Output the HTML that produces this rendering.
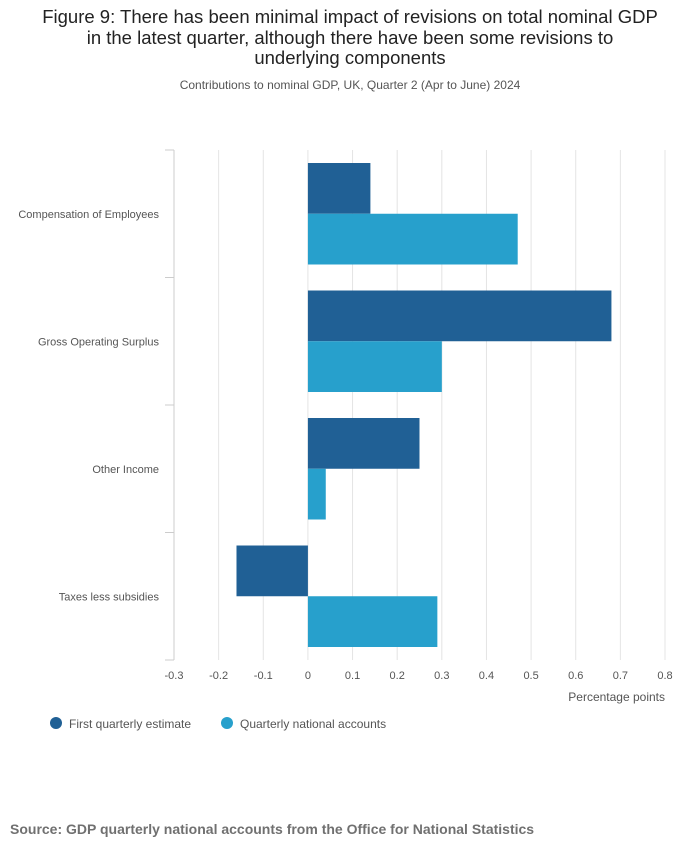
<!DOCTYPE html>
<html><head><meta charset="utf-8"><style>
body{margin:0;width:700px;height:857px;background:#fff;font-family:"Liberation Sans",sans-serif;position:relative;overflow:hidden}
#title{position:absolute;top:7px;left:0;width:700px;text-align:center;font-size:18.5px;line-height:20.5px;color:#222}
#sub{position:absolute;top:78px;left:0;width:700px;text-align:center;font-size:12px;color:#555}
#src{position:absolute;top:821px;left:10px;font-size:14px;font-weight:bold;color:#707070}
svg{position:absolute;left:0;top:0}
</style></head><body>
<div id="title">Figure 9: There has been minimal impact of revisions on total nominal GDP<br>in the latest quarter, although there have been some revisions to<br>underlying components</div>
<div id="sub">Contributions to nominal GDP, UK, Quarter 2 (Apr to June) 2024</div>
<svg id="chart" width="700" height="857"></svg>
<div id="src">Source: GDP quarterly national accounts from the Office for National Statistics</div>
<script>
const categories=["Compensation of Employees","Gross Operating Surplus","Other Income","Taxes less subsidies"];
const firstEstimate=[0.14,0.68,0.25,-0.16];
const quarterlyAccounts=[0.47,0.30,0.04,0.29];
const ticks=[-0.3,-0.2,-0.1,0,0.1,0.2,0.3,0.4,0.5,0.6,0.7,0.8];
const tickLabels=["-0.3","-0.2","-0.1","0","0.1","0.2","0.3","0.4","0.5","0.6","0.7","0.8"];
{
const NS="http://www.w3.org/2000/svg";
const svg=document.getElementById('chart');
const x0=174,x1=665,plotTop=150,plotBot=660;
const x=v=>x0+(v-(-0.3))/(1.1)*(x1-x0);
const band=(plotBot-plotTop)/categories.length;
function mk(t,a,txt){const e=document.createElementNS(NS,t);for(const k in a)e.setAttribute(k,a[k]);if(txt!==undefined)e.textContent=txt;svg.appendChild(e);return e;}
ticks.forEach((t,i)=>{
 if(i>0){const g=mk('line',{x1:x(t),x2:x(t),y1:plotTop,y2:plotBot,stroke:'#e4e4e4','stroke-width':1});
 
 }
 const tl=mk('text',{x:x(t),y:679,'text-anchor':'middle','font-size':11,fill:'#555'},tickLabels[i]);
 
 
});
mk('line',{x1:x0,x2:x0,y1:plotTop,y2:plotBot,stroke:'#ccc'});
for(let i=0;i<=categories.length;i++){mk('line',{x1:165,x2:x0,y1:plotTop+i*band,y2:plotTop+i*band,stroke:'#ccc'});}
categories.forEach((c,i)=>{
 const y=plotTop+i*band;
 const lbl=mk('text',{x:159,y:y+band/2+4,'text-anchor':'end','font-size':11,fill:'#555'},c);
 
 
 const h=(band-26)/2;
 [[firstEstimate[i],'#206095',y+13],[quarterlyAccounts[i],'#27a0cc',y+13+h]].forEach(([v,col,yy],j)=>{
  const r=mk('rect',{x:Math.min(x(0),x(v)),y:yy,width:Math.abs(x(v)-x(0)),height:h,fill:col});
  
  
 });
});
const at=mk('text',{x:665,y:701,'text-anchor':'end','font-size':12,fill:'#555'},'Percentage points');


[[56,'#206095','First quarterly estimate'],[227,'#27a0cc','Quarterly national accounts']].forEach(([lx,col,t])=>{
 const c=mk('circle',{cx:lx,cy:723,r:6,fill:col});
 
 
 const tt=mk('text',{x:lx+13,y:728,'font-size':12,fill:'#555'},t);
 
 
});
}
</script>
</body></html>
